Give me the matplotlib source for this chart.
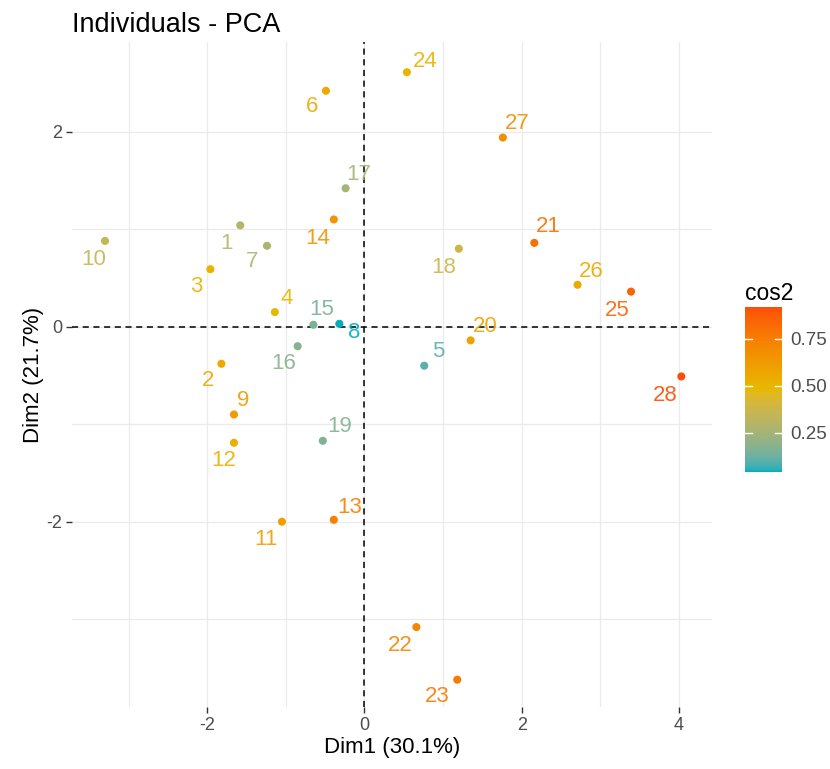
import matplotlib
matplotlib.use("Agg")
from matplotlib import pyplot as plt
from matplotlib.colors import ListedColormap, Normalize, to_rgb
import numpy as np

plt.rcParams['font.family'] = ['Liberation Sans', 'DejaVu Sans']
plt.rcParams['axes.unicode_minus'] = False

# individuals
names = [str(i) for i in range(1, 29)]
dim1 = [-1.58, -1.82, -1.96, -1.14, 0.76, -0.49, -1.24, -0.32, -1.66, -3.30,
        -1.05, -1.66, -0.39, -0.39, -0.65, -0.85, -0.24, 1.20, -0.53, 1.35,
        2.16, 0.66, 1.18, 0.54, 3.39, 2.71, 1.76, 4.03]
dim2 = [1.04, -0.38, 0.59, 0.15, -0.40, 2.42, 0.83, 0.03, -0.90, 0.88,
        -2.00, -1.19, -1.98, 1.10, 0.02, -0.20, 1.42, 0.80, -1.17, -0.14,
        0.86, -3.08, -3.62, 2.61, 0.36, 0.43, 1.94, -0.51]
cos2 = [0.30, 0.55, 0.50, 0.48, 0.10, 0.55, 0.28, 0.04, 0.62, 0.35,
        0.60, 0.52, 0.74, 0.65, 0.15, 0.18, 0.25, 0.38, 0.17, 0.58,
        0.80, 0.72, 0.76, 0.50, 0.85, 0.55, 0.68, 0.92]

# label placement (pixel offsets from the point, like ggrepel did it)
lab_dx = [-14, -13, -14, 12, 14, -14, -15, 15, 9, -11, -16, -10, 16, -16, 8, -14,
          13, -15, 17, 15, 14, -16, -20, 18, -14, 14, 14, -16]
lab_dy = [18, 17, 17, -14, -14, 16, 16, 9, -14, 19, 18, 18, -12, 19, -15, 17,
          -14, 19, -14, -14, -16, 18, 17, -11, 19, -13, -14, 19]

grad_cols = ["#00AFBB", "#E7B800", "#FC4E07"]


# ggplot blends gradient colours in Lab space, so do the same here
def srgb_to_lab(c):
    c = np.asarray(c, float)
    lin = np.where(c <= 0.04045, c / 12.92, ((c + 0.055) / 1.055) ** 2.4)
    M = np.array([[0.4124, 0.3576, 0.1805],
                  [0.2126, 0.7152, 0.0722],
                  [0.0193, 0.1192, 0.9505]])
    xyz = M @ lin / np.array([0.95047, 1.0, 1.08883])
    f = np.where(xyz > 0.008856, np.cbrt(xyz), 7.787 * xyz + 16 / 116)
    return np.array([116 * f[1] - 16, 500 * (f[0] - f[1]), 200 * (f[1] - f[2])])


def lab_to_srgb(lab):
    L, a, b = lab
    fy = (L + 16) / 116
    fx = fy + a / 500
    fz = fy - b / 200
    f = np.array([fx, fy, fz])
    xyz = np.where(f ** 3 > 0.008856, f ** 3, (f - 16 / 116) / 7.787)
    xyz = xyz * np.array([0.95047, 1.0, 1.08883])
    Minv = np.array([[3.2406, -1.5372, -0.4986],
                     [-0.9689, 1.8758, 0.0415],
                     [0.0557, -0.2040, 1.0570]])
    lin = Minv @ xyz
    c = np.where(lin <= 0.0031308, 12.92 * lin, 1.055 * np.clip(lin, 0, None) ** (1 / 2.4) - 0.055)
    return np.clip(c, 0, 1)


labs = [srgb_to_lab(to_rgb(c)) for c in grad_cols]
lut = []
for t in np.linspace(0, 1, 256):
    seg = min(int(t * 2), 1)
    u = t * 2 - seg
    lut.append(lab_to_srgb(labs[seg] * (1 - u) + labs[seg + 1] * u))
cmap = ListedColormap(lut)
norm = Normalize(vmin=min(cos2), vmax=max(cos2))

fig = plt.figure(figsize=(8.3, 7.69), dpi=100)
ax = fig.add_axes([72/830, 1-707/769, 640/830, 665/769])

ax.set_xlim(-3.72, 4.42)
ax.set_ylim(-3.9, 2.92)
ax.set_xticks([-2, 0, 2, 4])
ax.set_yticks([-2, 0, 2])
ax.set_xticks([-3, -1, 1, 3], minor=True)
ax.set_yticks([-3, -1, 1], minor=True)
ax.grid(True, which='both', color='#EBEBEB', lw=0.9)
ax.set_axisbelow(True)
for s in ax.spines.values():
    s.set_visible(False)
ax.tick_params(which='major', length=4, color='#333333', labelcolor='#4D4D4D',
               labelsize=13, width=1, pad=3)
ax.tick_params(which='minor', length=0)

ax.axhline(0, color='black', ls=(0, (4, 3)), lw=1.1, zorder=1)
ax.axvline(0, color='black', ls=(0, (4, 3)), lw=1.1, zorder=1)

cols = cmap(norm(np.array(cos2)))
ax.scatter(dim1, dim2, c=cos2, cmap=cmap, norm=norm, s=34, zorder=3, linewidths=0)
for i, n in enumerate(names):
    ax.annotate(n, (dim1[i], dim2[i]), xytext=(lab_dx[i], -lab_dy[i]),
                textcoords='offset pixels', ha='center', va='center',
                fontsize=16, color=cols[i], alpha=0.9, zorder=4)

ax.set_xlabel("Dim1 (30.1%)", fontsize=16, labelpad=2)
ax.set_ylabel("Dim2 (21.7%)", fontsize=16, labelpad=2)
ax.set_title("Individuals - PCA", fontsize=19.5, loc='left', pad=7)

# colour bar
cax = fig.add_axes([745/830, 1-472/769, 37/830, 165/769])
sm = plt.cm.ScalarMappable(cmap=cmap, norm=norm)
cb = fig.colorbar(sm, cax=cax, ticks=[0.25, 0.5, 0.75])
cb.ax.set_yticklabels(["0.25", "0.50", "0.75"])
cb.outline.set_visible(False)
cb.ax.tick_params(length=0, labelsize=13.5, labelcolor='#4D4D4D', pad=6)
for t in [0.25, 0.5, 0.75]:
    cb.ax.plot([0, 0.2], [t, t], color='white', lw=1)
    cb.ax.plot([0.8, 1], [t, t], color='white', lw=1)
cb.ax.set_title("cos2", fontsize=16.5, loc='left', pad=5)

fig.savefig("out.png", dpi=100)
